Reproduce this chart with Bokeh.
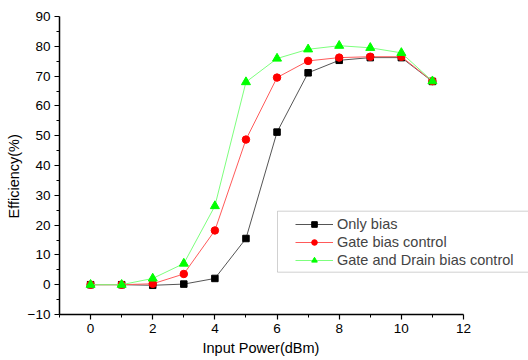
from bokeh.plotting import figure
from bokeh.models import FixedTicker, Range1d, Legend, LegendItem, BoxAnnotation, Title
from bokeh.embed import file_html
from bokeh.resources import INLINE

x = [0, 1, 2, 3, 4, 5, 6, 7, 8, 9, 10, 11]
only_bias = [0, 0, -0.2, 0.2, 2.1, 15.5, 51.2, 71.1, 75.3, 76.2, 76.2, 68.2]
gate_bias = [0, 0, 0.3, 3.6, 18.2, 48.7, 69.5, 75.1, 76.2, 76.5, 76.5, 68.3]
gate_drain = [0, 0, 2.1, 7.1, 26.4, 68.0, 75.9, 79.0, 80.2, 79.5, 77.8, 68.3]
x_ticks = [0, 2, 4, 6, 8, 10, 12]
x_minor = [-1, 1, 3, 5, 7, 9, 11]
y_ticks = [-10, 0, 10, 20, 30, 40, 50, 60, 70, 80, 90]
y_minor = [-5, 5, 15, 25, 35, 45, 55, 65, 75, 85]
x_axis_span = (-1, 12)
y_axis_span = (-10, 90)
x_title = "Input Power(dBm)"
y_title = "Efficiency(%)"

FRAME_W = 404.0  # pixel width of the drawn x axis
x_per_px = (x_axis_span[1] - x_axis_span[0]) / FRAME_W
# frame extends to the right edge so the legend can overflow the axis end
x_end = x_axis_span[0] + (528 - 59) * x_per_px

p = figure(width=528, height=360, output_backend="svg", toolbar_location=None,
           x_range=Range1d(x_axis_span[0], x_end), y_range=Range1d(*y_axis_span),
           min_border_left=59, min_border_right=0, min_border_top=16, min_border_bottom=46)
p.xgrid.visible = False
p.ygrid.visible = False
p.outline_line_color = None

font = "Liberation Sans"
for ax in (p.xaxis[0], p.yaxis[0]):
    ax.axis_line_width = 1.5
    ax.axis_line_color = "black"
    ax.major_tick_line_color = "black"
    ax.minor_tick_line_color = "black"
    ax.major_tick_line_width = 1.2
    ax.major_tick_out = 5
    ax.major_tick_in = 0
    ax.minor_tick_out = 3
    ax.minor_tick_in = 0
    ax.major_label_standoff = 4
    ax.major_label_text_font = font
    ax.major_label_text_font_size = "13.5px"
    ax.major_label_text_color = "black"

p.xaxis[0].bounds = x_axis_span
p.xaxis[0].ticker = FixedTicker(ticks=x_ticks, minor_ticks=x_minor)
p.yaxis[0].ticker = FixedTicker(ticks=y_ticks, minor_ticks=y_minor)

# axis titles as side-panel titles so they can be placed like the reference
p.add_layout(Title(text=x_title, align="left", offset=143, standoff=4,
                   text_font=font, text_font_size="14.5px", text_font_style="normal",
                   text_color="black"), "below")
p.add_layout(Title(text=y_title, align="left", offset=96, standoff=5,
                   text_font=font, text_font_size="14.5px", text_font_style="normal",
                   text_color="black"), "left")

l1 = p.line(x, only_bias, line_color="#555555", line_width=1)
m1 = p.scatter(x, only_bias, marker="square", size=6.5, fill_color="black", line_color="black")
l2 = p.line(x, gate_bias, line_color="#ff5a5a", line_width=1)
m2 = p.scatter(x, gate_bias, marker="circle", size=7.5, fill_color="red", line_color="red")
l3 = p.line(x, gate_drain, line_color="#7dff7d", line_width=1)
m3 = p.scatter(x, gate_drain, marker="triangle", size=9, fill_color="#00ff00", line_color="#00ff00")

box = BoxAnnotation(left=218, right=600, bottom=42.3, top=103.3,
                    left_units="screen", right_units="screen", bottom_units="screen", top_units="screen",
                    fill_color="white", fill_alpha=1, line_color="#666666", line_width=1)
p.add_layout(box)

legend = Legend(items=[
    LegendItem(label="Only bias", renderers=[l1, m1]),
    LegendItem(label="Gate bias control", renderers=[l2, m2]),
    LegendItem(label="Gate and Drain bias control", renderers=[l3, m3]),
], location=(236, 45))
legend.label_text_font = font
legend.label_text_font_size = "14.5px"
legend.glyph_width = 38
legend.glyph_height = 14
legend.label_height = 18
legend.label_standoff = 4
legend.spacing = 0
legend.padding = 0
legend.margin = 0
legend.border_line_color = None
legend.background_fill_alpha = 0
p.add_layout(legend, "center")

open("out.html", "w").write(file_html(p, INLINE))
